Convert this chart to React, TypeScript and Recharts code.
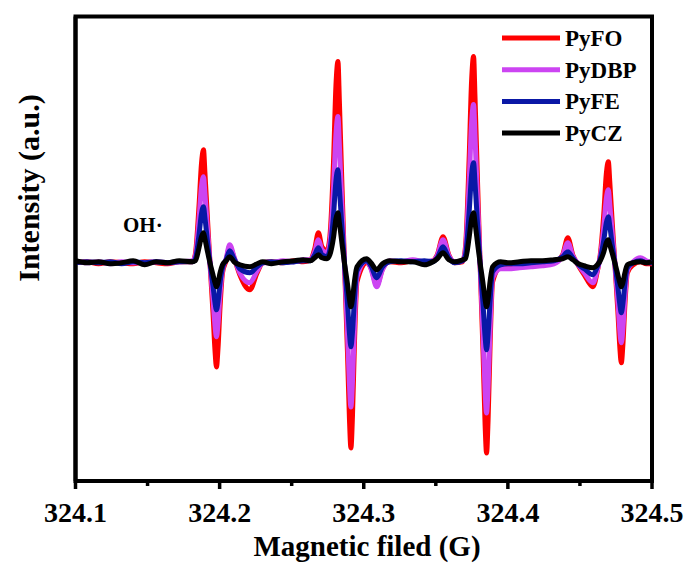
import React from 'react';
import { LineChart, Line, XAxis, YAxis, ReferenceArea } from 'recharts';

// Magnetic field (G)
const field = [
  324.100, 324.108, 324.116, 324.124, 324.132, 324.140, 324.148, 324.156, 324.164, 324.172,
  324.1812, 324.1832, 324.1857, 324.1874, 324.1888, 324.1898, 324.1916, 324.1933, 324.1954, 324.1968,
  324.1978, 324.1989, 324.2003, 324.2020, 324.2045, 324.2070, 324.2100, 324.2140, 324.2210, 324.2260,
  324.2300, 324.2360, 324.2440, 324.2520, 324.2580, 324.2630, 324.2660, 324.2685, 324.2710, 324.2745,
  324.2765, 324.2790, 324.2807, 324.2821, 324.2831, 324.2849, 324.2866, 324.2887, 324.2901, 324.2911,
  324.2922, 324.2936, 324.2953, 324.3020, 324.3050, 324.3090, 324.3130, 324.3180, 324.3260, 324.3340,
  324.3420, 324.3480, 324.3510, 324.3550, 324.3590, 324.3630, 324.3686, 324.3706, 324.3731, 324.3748,
  324.3762, 324.3772, 324.3790, 324.3807, 324.3828, 324.3842, 324.3852, 324.3863, 324.3877, 324.3894,
  324.3950, 324.4000, 324.4080, 324.4160, 324.4240, 324.4320, 324.4380, 324.4416, 324.4450, 324.4490,
  324.4530, 324.4590, 324.4621, 324.4641, 324.4666, 324.4683, 324.4697, 324.4707, 324.4725, 324.4742,
  324.4763, 324.4777, 324.4787, 324.4798, 324.4812, 324.4829, 324.4870, 324.4920, 324.4960, 324.5000,
];

const pyfo = [
  0, 1, -1, 1, 0, -1, 1, 0, -1, 1,
  1, 9, 57, 99, 113, 90, 43, 0, -50, -88,
  -104, -85, -44, -10, 2, 16, 5, -12, -27, -10,
  0, 1, 0, 2, 1, 3, 14, 30, 16, 12,
  26, 100, 177, 201, 161, 76, 0, -89, -157, -185,
  -152, -78, -19, 0, -5, -22, -6, 1, 0, 2,
  0, 2, 8, 26, 8, 0, 1, 16, 103, 181,
  206, 165, 78, 0, -91, -162, -190, -156, -80, -19,
  -4, -4, -3, -2, -1, 0, 8, 25, 8, -3,
  -12, -24, -8, 8, 50, 89, 101, 81, 38, 0,
  -48, -85, -100, -82, -42, -10, -2, 1, -1, -1,
];

const pydbp = [
  1, 0, 1, -1, 1, 0, 0, 1, 0, 1,
  2, 7, 43, 76, 86, 69, 33, 0, -36, -63,
  -74, -61, -31, -7, 4, 18, 6, -10, -20, -8,
  0, 0, 2, 1, 3, 3, 11, 23, 13, 10,
  20, 73, 128, 146, 117, 55, 0, -69, -122, -144,
  -118, -60, -14, 2, -6, -24, -7, 2, 1, 3,
  1, 2, 7, 23, 7, 1, 2, 13, 79, 139,
  158, 126, 60, 0, -72, -128, -150, -123, -63, -15,
  -6, -6, -5, -4, -3, -1, 7, 20, 7, -2,
  -10, -20, -7, 6, 36, 64, 73, 58, 28, 0,
  -38, -68, -80, -66, -34, -8, 1, 5, 2, 0,
];

const pyfe = [
  0, 1, 0, 1, -1, 1, 0, 1, 0, 1,
  1, 4, 28, 49, 56, 45, 21, 0, -23, -40,
  -47, -39, -20, -5, 3, 12, 4, -6, -10, -4,
  0, 1, 0, 1, 2, 2, 8, 15, 8, 6,
  13, 47, 82, 93, 74, 35, 0, -40, -71, -84,
  -69, -35, -8, 2, -3, -15, -4, 1, 2, 1,
  2, 1, 5, 16, 5, 0, 2, 8, 50, 88,
  100, 80, 38, 0, -42, -74, -87, -71, -37, -9,
  -2, -1, -1, 0, 1, 2, 6, 11, 5, -2,
  -6, -12, -4, 4, 23, 40, 46, 37, 17, 0,
  -24, -42, -50, -41, -21, -5, 0, 2, 0, 0,
];

const pycz = [
  2, 0, 1, -1, 0, 2, -2, 1, 0, 2,
  1, 2, 15, 26, 30, 24, 11, 0, -12, -20,
  -24, -20, -10, -2, 2, 6, 1, -2, -4, -1,
  1, -1, 1, 2, 3, 2, 5, 8, 5, 4,
  8, 25, 44, 50, 40, 19, 0, -21, -37, -44,
  -36, -18, -4, 4, 0, -7, -1, 2, 1, 1,
  -2, 1, 4, 10, 3, 1, 3, 4, 25, 44,
  50, 40, 19, 0, -21, -37, -44, -36, -18, -4,
  1, 0, 1, 2, 2, 3, 4, 6, 3, -1,
  -3, -5, -2, 2, 11, 20, 23, 18, 9, 0,
  -12, -20, -24, -20, -10, -2, 0, 1, 0, 1,
];

const seriesNames = ['PyFO', 'PyDBP', 'PyFE', 'PyCZ'];
const seriesValues = [pyfo, pydbp, pyfe, pycz];
const seriesColors = ['#FF0000', '#CC44F2', '#0A18A6', '#000000'];

const xTicks = [324.1, 324.15, 324.2, 324.25, 324.3, 324.35, 324.4, 324.45, 324.5];
const xDomain = [324.1, 324.5];
const yDomain = [-218, 246];

const data = field.map((f, i) => {
  const row: Record<string, number> = { field: f };
  seriesNames.forEach((n, j) => {
    row[n] = seriesValues[j][i];
  });
  return row;
});

const FONT = '"Liberation Serif", "Times New Roman", serif';

const XTick = (props: any) => {
  const { x, y, payload } = props;
  const v = payload.value as number;
  const major = Math.abs(v * 10 - Math.round(v * 10)) < 1e-6;
  return (
    <g>
      <line x1={x} x2={x} y1={y} y2={y + (major ? 8 : 5)} stroke="#000" strokeWidth={3.5} />
      {major && (
        <text
          x={x}
          y={y + 41}
          textAnchor="middle"
          fontFamily={FONT}
          fontWeight="bold"
          fontSize={28}
          fill="#000"
        >
          {v.toFixed(1)}
        </text>
      )}
    </g>
  );
};

export default function App() {
  return (
    <div style={{ position: 'absolute', left: 0, top: 0, background: '#fff' }}>
      <LineChart
        width={691}
        height={569}
        data={data}
        margin={{ top: 16.5, right: 39, bottom: 28, left: 0 }}
      >
        <XAxis
          dataKey="field"
          type="number"
          domain={xDomain}
          ticks={xTicks}
          allowDataOverflow
          interval={0}
          tickSize={0}
          tickMargin={0}
          tickLine={false}
          height={60}
          axisLine={{ stroke: '#000', strokeWidth: 4 }}
          tick={<XTick />}
        />
        <YAxis
          type="number"
          domain={yDomain}
          allowDataOverflow
          width={75.5}
          tick={false}
          tickLine={false}
          axisLine={{ stroke: '#000', strokeWidth: 4 }}
        />
        <ReferenceArea
          x1={xDomain[0]}
          x2={xDomain[1]}
          y1={yDomain[0]}
          y2={yDomain[1]}
          fill="none"
          stroke="#000"
          strokeWidth={4}
          ifOverflow="visible"
        />
        {seriesNames.map((n, j) => (
          <Line
            key={n}
            dataKey={n}
            type="monotone"
            stroke={seriesColors[j]}
            strokeWidth={5}
            dot={false}
            isAnimationActive={false}
          />
        ))}
        <text
          x={28}
          y={188}
          transform="rotate(-90, 28, 188)"
          textAnchor="middle"
          dominantBaseline="central"
          fontFamily={FONT}
          fontWeight="bold"
          fontSize={30}
          fill="#000"
        >
          Intensity (a.u.)
        </text>
        <text
          x={367}
          y={556}
          textAnchor="middle"
          fontFamily={FONT}
          fontWeight="bold"
          fontSize={29}
          fill="#000"
        >
          Magnetic filed (G)
        </text>
        <text x={123} y={232} fontFamily={FONT} fontWeight="bold" fontSize={21} fill="#000">
          OH·
        </text>
        {seriesNames.map((n, j) => (
          <g key={'lg' + n}>
            <line
              x1={502}
              x2={560}
              y1={38 + j * 31.7}
              y2={38 + j * 31.7}
              stroke={seriesColors[j]}
              strokeWidth={5}
            />
            <text
              x={565}
              y={38 + j * 31.7 + 8}
              fontFamily={FONT}
              fontWeight="bold"
              fontSize={23}
              fill="#000"
            >
              {n}
            </text>
          </g>
        ))}
      </LineChart>
    </div>
  );
}
